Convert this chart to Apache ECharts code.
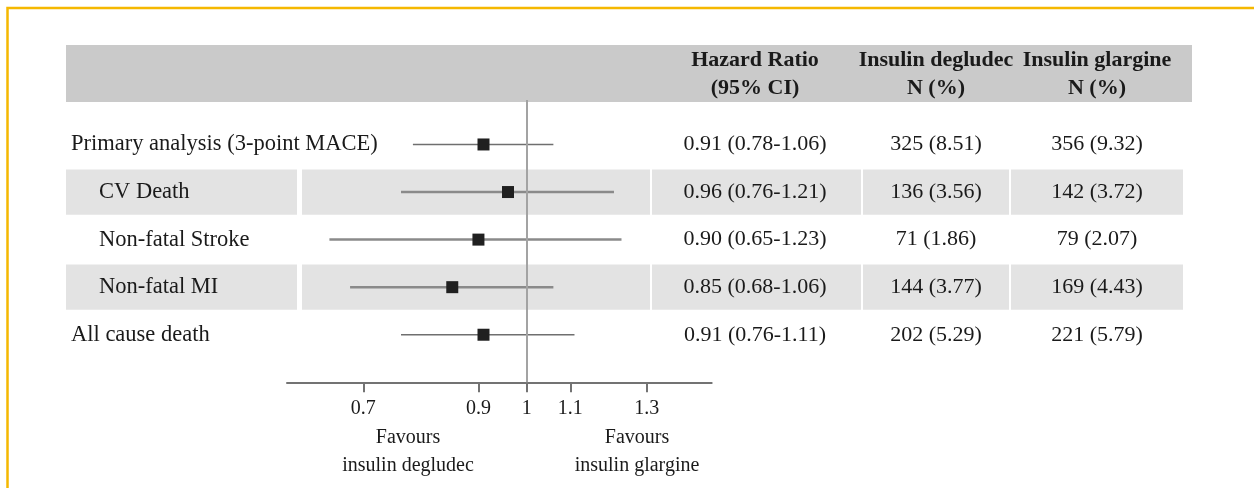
<!DOCTYPE html>
<html>
<head>
<meta charset="utf-8">
<script src="https://cdn.jsdelivr.net/npm/echarts@6/dist/echarts.min.js"></script>
<style>
  html, body { margin: 0; padding: 0; background: #fff; }
  #chart { width: 1254px; height: 488px; }
</style>
</head>
<body>
<div id="chart"></div>
<script>
// rows of the forest plot
const rowLabels = ['Primary analysis (3-point MACE)', 'CV Death', 'Non-fatal Stroke', 'Non-fatal MI', 'All cause death'];
const isSubgroup = [false, true, true, true, false];
const shadedRows = [1, 3];
const hazardRatio = [0.91, 0.96, 0.90, 0.85, 0.91];
const ciLower = [0.78, 0.76, 0.65, 0.68, 0.76];
const ciUpper = [1.06, 1.21, 1.23, 1.06, 1.11];
const degludecN = [325, 136, 71, 144, 202];
const degludecPct = [8.51, 3.56, 1.86, 3.77, 5.29];
const glargineN = [356, 142, 79, 169, 221];
const glarginePct = [9.32, 3.72, 2.07, 4.43, 5.79];
const tickValues = [0.7, 0.9, 1, 1.1, 1.3];
const headerCols = [['Hazard Ratio', '(95% CI)'], ['Insulin degludec', 'N (%)'], ['Insulin glargine', 'N (%)']];

const serif = '"Liberation Serif", "Times New Roman", serif';
const textColor = '#1a1a1a';
const colX = { label: 71, indent: 99, hr: 755, deg: 936, gla: 1097 };
const colCenters = [colX.hr, colX.deg, colX.gla];
const bandSegments = [[66, 297], [302, 650], [652, 861], [863, 1009], [1011, 1183]];

const chart = echarts.init(document.getElementById('chart'));

const yRange = { min: -0.935, max: 5 };
const gridBox = { top: 100, bottom: 105.7 };

let headerGraphics = [
  { type: 'rect', shape: { x: 66, y: 45, width: 1126, height: 57 }, style: { fill: '#cacaca' }, z: 0 },
  { type: 'polyline', shape: { points: [[7.5, 488], [7.5, 8], [1254, 8]] }, style: { stroke: '#f5b800', lineWidth: 2.5, fill: null } }
];
headerCols.forEach((lines, k) => {
  lines.forEach((t, j) => {
    headerGraphics.push({
      type: 'text', z: 5,
      style: { text: t, x: colCenters[k], y: 60 + j * 28, align: 'center', verticalAlign: 'middle',
        font: 'bold 22px ' + serif, fill: textColor }
    });
  });
});
[['Favours', 'insulin degludec', 408], ['Favours', 'insulin glargine', 637]].forEach(f => {
  headerGraphics.push({
    type: 'text',
    style: { text: f[0] + '\n' + f[1], x: f[2], y: 424, align: 'center', verticalAlign: 'top',
      font: '20px ' + serif, lineHeight: 28, fill: textColor }
  });
});

let tableData = rowLabels.map((_, i) => [0, i]);
let forestData = rowLabels.map((_, i) => [Math.log(ciLower[i]), Math.log(ciUpper[i]), Math.log(hazardRatio[i]), i]);

let option = {
  animation: false,
  graphic: headerGraphics,
  grid: [
    { left: 287, right: 542.3, top: gridBox.top, bottom: gridBox.bottom },
    { left: 0, right: 0, top: gridBox.top, bottom: gridBox.bottom }
  ],
  xAxis: [
    {
      type: 'value', gridIndex: 0, min: -0.5234, max: 0.404,
      axisLine: { show: true, onZero: false, lineStyle: { color: '#737373', width: 2 } },
      axisTick: { show: true, length: 10, customValues: tickValues.map(v => Math.log(v)), lineStyle: { color: '#737373', width: 2 } },
      axisLabel: {
        customValues: tickValues.map(v => Math.log(v)),
        formatter: v => String(Math.round(Math.exp(v) * 100) / 100),
        margin: 16, fontSize: 20, fontFamily: serif, color: textColor
      },
      splitLine: { show: false }
    },
    { type: 'value', gridIndex: 1, min: 0, max: 1254, show: false }
  ],
  yAxis: [
    { type: 'value', gridIndex: 0, inverse: true, min: yRange.min, max: yRange.max, show: false },
    { type: 'value', gridIndex: 1, inverse: true, min: yRange.min, max: yRange.max, show: false }
  ],
  series: [
    {
      type: 'custom', xAxisIndex: 1, yAxisIndex: 1, z: 1, silent: true,
      data: tableData,
      renderItem: (params, api) => {
        let i = api.value(1);
        let y = api.coord([0, i])[1];
        let h = api.size([0, 1])[1];
        let children = [];
        if (shadedRows.indexOf(i) >= 0) {
          bandSegments.forEach(s => {
            children.push({ type: 'rect', shape: { x: s[0], y: y - h * 0.475, width: s[1] - s[0], height: h * 0.95 },
              style: { fill: '#e3e3e3' } });
          });
        }
        let txt = (t, x, align, size) => ({ type: 'text', z2: 5,
          style: { text: t, x: x, y: y, align: align, verticalAlign: 'middle', font: size + 'px ' + serif, fill: textColor } });
        children.push(txt(rowLabels[i], isSubgroup[i] ? colX.indent : colX.label, 'left', 22.5));
        children.push(txt(hazardRatio[i].toFixed(2) + ' (' + ciLower[i].toFixed(2) + '-' + ciUpper[i].toFixed(2) + ')', colX.hr, 'center', 22));
        children.push(txt(degludecN[i] + ' (' + degludecPct[i].toFixed(2) + ')', colX.deg, 'center', 22));
        children.push(txt(glargineN[i] + ' (' + glarginePct[i].toFixed(2) + ')', colX.gla, 'center', 22));
        return { type: 'group', children: children };
      }
    },
    {
      type: 'line', xAxisIndex: 0, yAxisIndex: 0, data: [], z: 2,
      markLine: {
        silent: true, symbol: 'none', label: { show: false },
        lineStyle: { color: '#a3a3a3', width: 2, type: 'solid' },
        data: [{ xAxis: 0 }]
      }
    },
    {
      type: 'custom', xAxisIndex: 0, yAxisIndex: 0, z: 3, silent: true,
      encode: { x: [0, 1, 2], y: 3 },
      data: forestData,
      renderItem: (params, api) => {
        let i = api.value(3);
        let p1 = api.coord([api.value(0), i]);
        let p2 = api.coord([api.value(1), i]);
        let c = api.coord([api.value(2), i]);
        let sub = isSubgroup[i];
        return {
          type: 'group',
          children: [
            { type: 'line', shape: { x1: p1[0], y1: p1[1], x2: p2[0], y2: p2[1] },
              style: { stroke: sub ? '#8a8a8a' : '#6f6f6f', lineWidth: sub ? 2.5 : 1.5 } },
            { type: 'rect', shape: { x: c[0] - 6, y: c[1] - 6, width: 12, height: 12 }, style: { fill: '#202020' } }
          ]
        };
      }
    }
  ]
};

chart.setOption(option);
</script>
</body>
</html>
